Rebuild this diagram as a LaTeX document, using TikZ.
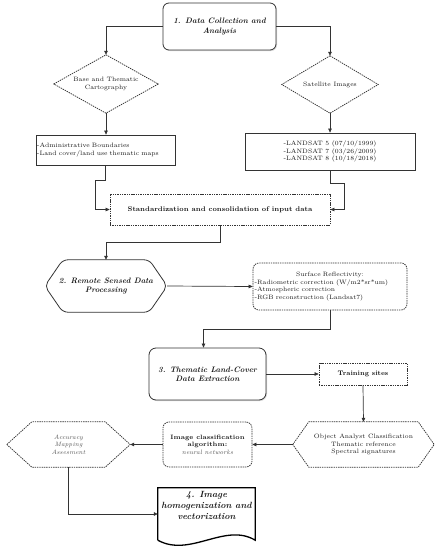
\documentclass[tikz,border=0pt]{standalone}
\usetikzlibrary{arrows.meta,calc,shadows}
\definecolor{ln}{HTML}{333333}
\definecolor{tx}{HTML}{1A1A1A}
\definecolor{gtx}{HTML}{555555}
\begin{document}
\begin{tikzpicture}[x=1pt,y=-1pt,
  every node/.style={inner sep=0pt,text=tx,font=\fontsize{6.3}{7.6}\selectfont},
  solidbox/.style={draw=ln,line width=0.8pt,fill=white,drop shadow={opacity=0.3,shadow xshift=1pt,shadow yshift=-1pt}},
  dashline/.style={draw=ln,line width=0.75pt,dash pattern=on 1.4pt off 0.9pt},
  arr/.style={draw=ln,line width=0.7pt,-{Triangle[length=4pt,width=3.6pt]}},
  ttl/.style={font=\fontsize{7.9}{9.3}\selectfont\bfseries\itshape,align=center},
]
\useasboundingbox (0,0) rectangle (437,550);

% 1. Data collection
\node[solidbox,rounded corners=6pt,minimum width=113pt,minimum height=47pt,ttl] (n1) at (219.5,26.5) {1. Data Collection and\\Analysis};

% diamonds
\node[minimum width=104pt,minimum height=58pt,align=center] (d1) at (106,84) {Base and Thematic\\Cartography};
\draw[dashline] (d1.north) -- (d1.east) -- (d1.south) -- (d1.west) -- cycle;
\node[minimum width=96pt,minimum height=57pt,align=center] (d2) at (330,84.5) {Satellite Images};
\draw[dashline] (d2.north) -- (d2.east) -- (d2.south) -- (d2.west) -- cycle;

% boxes
\node[solidbox,minimum width=139pt,minimum height=30pt,text width=137pt,align=left] (b1) at (105.5,150) {-Administrative Boundaries\\-Land cover/land use thematic maps};
\node[solidbox,minimum width=170pt,minimum height=37pt,align=center] (b2) at (330,151.5) {-LANDSAT 5 (07/10/1999)\\-LANDSAT 7 (03/26/2009)\\-LANDSAT 8 (10/18/2018)};

% standardization
\node[dashline,minimum width=220pt,minimum height=31pt,font=\fontsize{6.8}{8}\selectfont\bfseries] (std) at (220,209.5) {Standardization and consolidation of input data};

% 2. Remote sensed hexagon
\node[minimum width=122pt,minimum height=52pt,ttl] (h2) at (106,286) {2. Remote Sensed Data\\Processing};
\draw[draw=ln,line width=0.8pt,rounded corners=5pt] (h2.west) -- ($(h2.north west)+(18,0)$) -- ($(h2.north east)+(-18,0)$) -- (h2.east) -- ($(h2.south east)+(-18,0)$) -- ($(h2.south west)+(18,0)$) -- cycle;

% surface reflectivity
\node[dashline,rounded corners=6pt,minimum width=154pt,minimum height=47pt,text width=151pt,align=left] (surf) at (330,286.5) {\centering Surface Reflectivity:\par\raggedright -Radiometric correction (W/m2*sr*um)\\-Atmospheric correction\\-RGB reconstruction (Landsat7)};

% 3. thematic
\node[solidbox,rounded corners=7pt,minimum width=117pt,minimum height=52pt,ttl] (b3) at (207.5,374) {3. Thematic Land-Cover\\Data Extraction};

% training sites
\node[dashline,minimum width=88pt,minimum height=22pt,font=\fontsize{6.6}{7.8}\selectfont\bfseries] (train) at (363,374) {Training sites};

% object analyst hexagon
\node[minimum width=141pt,minimum height=45pt,align=center] (hobj) at (363.5,444.5) {Object Analyst Classification\\Thematic reference\\Spectral signatures};
\draw[dashline] (hobj.west) -- ($(hobj.north west)+(16,0)$) -- ($(hobj.north east)+(-16,0)$) -- (hobj.east) -- ($(hobj.south east)+(-16,0)$) -- ($(hobj.south west)+(16,0)$) -- cycle;

% image classification
\node[dashline,rounded corners=6pt,minimum width=89pt,minimum height=45pt,align=center] (imgc) at (207.5,444.5) {\textbf{Image classification}\\\textbf{algorithm:}\\\textcolor{gtx}{\itshape neural networks}};

% accuracy hexagon
\node[minimum width=123pt,minimum height=45pt,align=center,text=gtx,font=\fontsize{6.3}{7.6}\selectfont\itshape] (hacc) at (68.5,444.5) {Accuracy\\Mapping\\Assesment};
\draw[dashline] (hacc.west) -- ($(hacc.north west)+(25,0)$) -- ($(hacc.north east)+(-25,0)$) -- (hacc.east) -- ($(hacc.south east)+(-25,0)$) -- ($(hacc.south west)+(25,0)$) -- cycle;

% 4. document
\node[minimum width=97pt,minimum height=52pt,font=\fontsize{9}{11}\selectfont\bfseries\itshape,align=center] (doc) at (206.5,514) {4. Image\\homogenization and\\vectorization\\[6pt]};
\draw[draw=black,line width=1.3pt] (doc.south west) -- (doc.north west) -- (doc.north east) -- (doc.south east) .. controls (225,522) and (190,558) .. (doc.south west);

% connectors
\draw[arr] (n1.west) -| (d1.north);
\draw[arr] (n1.east) -| (d2.north);
\draw[arr] (d1.south) -- (d1.south |- b1.north);
\draw[arr] (d2.south) -- (b2.north);
\draw[arr] (b1.south) -- (b1.south |- 0,180) -- (95,180) |- (std.west);
\draw[arr] (b2.south) -- (b2.south |- 0,183) -- (344,183) |- (std.east);
\draw[arr] (std.south) -- (std.south |- 0,242) -| (h2.north);
\draw[arr] (h2.east) -- (surf.west);
\draw[arr] (surf.south) -- (surf.south |- 0,329) -| ($(b3.north)+(-4,0)$);
\draw[arr] (b3.east) -- (train.west);
\draw[arr] (train.south) -- (hobj.north);
\draw[arr] (hobj.west) -- (imgc.east);
\draw[arr] (imgc.west) -- (hacc.east);
\draw[arr] (hacc.south) |- (doc.west);
\end{tikzpicture}
\end{document}
